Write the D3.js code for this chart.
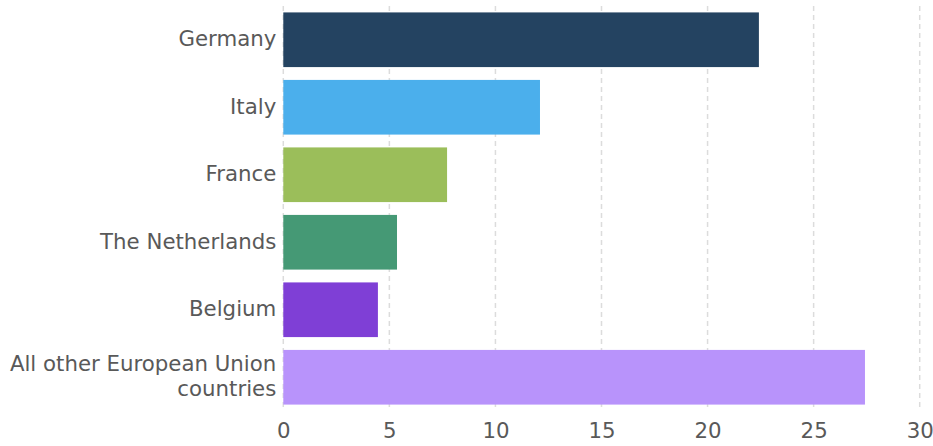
<!DOCTYPE html>
<html>
<head>
<meta charset="utf-8">
<script src="https://cdn.jsdelivr.net/npm/d3@7"></script>
<style>
  html, body { margin: 0; padding: 0; background: #fff; }
  svg { display: block; }
  text { font-family: "DejaVu Sans", Verdana, sans-serif; fill: #595959; }
</style>
</head>
<body>
<svg id="chart" width="933" height="446"></svg>
<script>
// Share by country (percent)
const countries = ["Germany", "Italy", "France", "The Netherlands", "Belgium", "All other European Union countries"];
const shares = [22.42, 12.1, 7.72, 5.36, 4.46, 27.42];
const barColors = ["#244361", "#4bafec", "#9bbe5a", "#459975", "#7f3fd6", "#b893fb"];
const xTicks = [0, 5, 10, 15, 20, 25, 30];

const svg = d3.select("#chart");
const plotLeft = 283.3, plotRight = 919.7, plotTop = 6, plotBottom = 411;
const fontSize = 21.3;

const x = d3.scaleLinear().domain([0, 30]).range([plotLeft, plotRight]);
const y = d3.scaleBand().domain(countries).range([plotTop, plotBottom])
  .paddingInner(0.19).paddingOuter(0.095);

// Dashed vertical gridlines
svg.append("g").selectAll("line").data(xTicks).join("line")
  .attr("x1", d => x(d)).attr("x2", d => x(d))
  .attr("y1", plotTop).attr("y2", plotBottom)
  .attr("stroke", "#dcdcdc").attr("stroke-width", 1.5)
  .attr("stroke-dasharray", "5,4");

// Bars
svg.append("g").selectAll("rect").data(countries).join("rect")
  .attr("x", x(0))
  .attr("y", d => y(d))
  .attr("width", (d, i) => x(shares[i]) - x(0))
  .attr("height", y.bandwidth())
  .attr("fill", (d, i) => barColors[i]);

// X axis tick labels
const xAxis = d3.axisBottom(x).tickValues(xTicks).tickSize(0).tickPadding(0);
const gx = svg.append("g").attr("transform", `translate(0,${plotBottom})`).call(xAxis);
gx.select(".domain").remove();
gx.selectAll("text").attr("dy", null).attr("y", 26.5)
  .style("font-size", fontSize + "px");

// Category labels (wrapped when long)
const wrapLines = { "All other European Union countries": ["All other European Union", "countries"] };
const labels = svg.append("g").selectAll("text").data(countries).join("text")
  .attr("x", plotLeft - 7)
  .attr("text-anchor", "end")
  .style("font-size", fontSize + "px");
labels.each(function(d) {
  const lines = wrapLines[d] || [d];
  const cy = y(d) + y.bandwidth() / 2;
  const lh = 25;
  const t = d3.select(this);
  lines.forEach((ln, i) => {
    t.append("tspan").attr("x", plotLeft - 7)
      .attr("y", cy + (i - (lines.length - 1) / 2) * lh)
      .attr("dy", "0.3em").text(ln);
  });
});
</script>
</body>
</html>
